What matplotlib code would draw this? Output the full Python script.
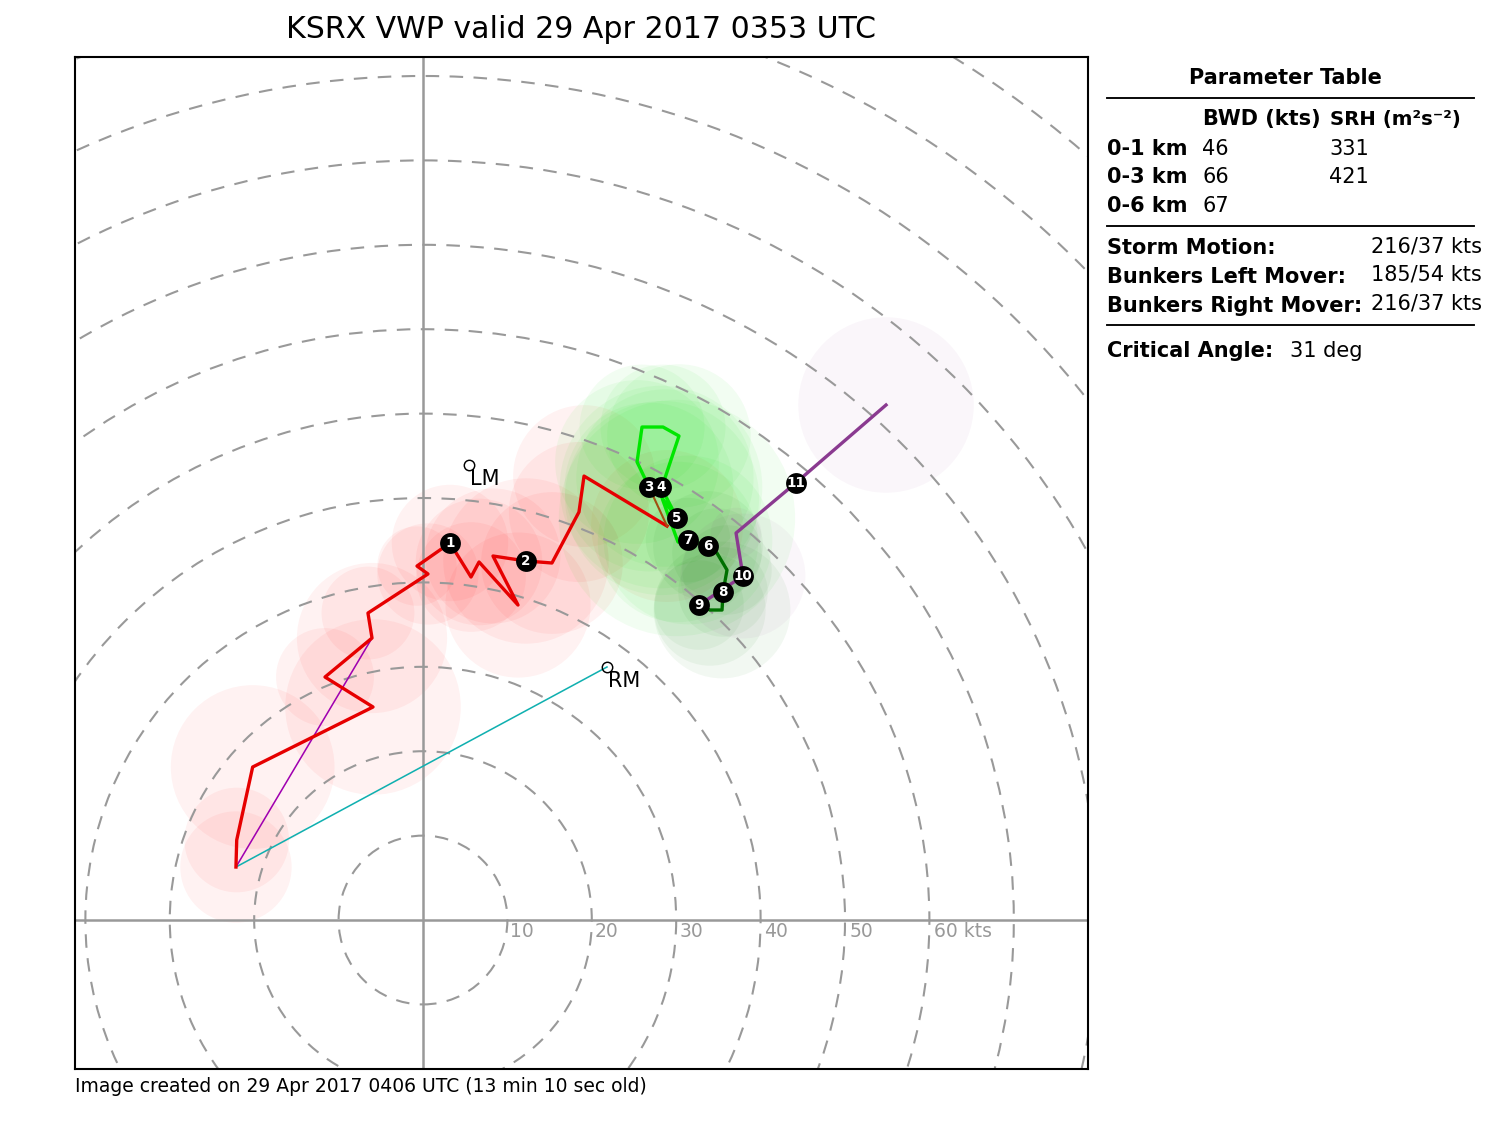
import matplotlib
matplotlib.use('Agg')
import matplotlib.pyplot as plt
from matplotlib.patches import Circle
from matplotlib.lines import Line2D

# hodograph segments, knots
red_u = [-22.16, -22.07, -20.18, -5.92, -11.61, -6.04, -6.52, 0.59, -0.71, 3.2, 5.69, 6.64, 11.26, 8.29, 12.2, 15.28, 18.48, 19.08, 28.91]
red_v = [6.28, 9.48, 18.13, 25.24, 28.79, 33.41, 36.37, 41.0, 41.94, 44.67, 40.64, 42.42, 37.32, 43.13, 42.54, 42.3, 48.34, 52.6, 46.68]
red_r = [6.6, 6.2, 9.7, 10.4, 5.8, 8.9, 5.5, 6.0, 4.7, 6.9, 6.5, 7.5, 8.6, 8.0, 9.8, 8.4, 8.3, 8.4, 9.0]

lime_u = [26.78, 25.36, 25.95, 28.44, 30.33, 28.67, 28.2, 30.09, 28.32, 30.21, 31.4]
lime_v = [51.3, 54.27, 58.41, 58.41, 57.35, 52.37, 51.3, 47.63, 50.0, 44.79, 45.02]
lime_r = [10.0, 9.7, 7.4, 7.4, 8.5, 10.5, 12.0, 14.0, 11.5, 9.5, 10.0]

dgreen_u = [31.4, 33.77, 34.83, 36.02, 35.55, 35.43, 34.0, 32.7]
dgreen_v = [45.02, 44.31, 43.48, 41.47, 38.86, 36.73, 36.73, 37.32]
dgreen_r = [5.0, 6.5, 5.3, 5.3, 5.3, 8.1, 6.6, 5.3]

purple_u = [32.7, 37.91, 37.09, 44.16, 54.86]
purple_v = [37.32, 40.76, 45.85, 51.78, 61.02]
purple_r = [0, 7.4, 3.0, 0, 10.4]

# height markers
km_labels = ['1', '2', '3', '4', '5', '6', '7', '8', '9', '10', '11']
km_u = [3.2, 12.2, 26.78, 28.2, 30.09, 33.77, 31.4, 35.55, 32.7, 37.91, 44.16]
km_v = [44.67, 42.54, 51.3, 51.3, 47.63, 44.31, 45.02, 38.86, 37.32, 40.76, 51.78]

lm = (5.45, 53.9)
rm = (21.8, 29.98)
rings = [10, 20, 30, 40, 50, 60, 70, 80, 90, 100, 110, 120, 130]
ring_labels = ['10', '20', '30', '40', '50', '60 kts']

W, H = 1500, 1125


def fx(px):
    return px / W


def fy(py):
    return 1 - py / H


fig = plt.figure(figsize=(10, 7.5), dpi=150)
ax = fig.add_axes([fx(75), fy(1069), (1088 - 75) / W, (1069 - 57) / H])
ax.set_xlim(-41.23, 78.79)
ax.set_ylim(-17.65, 102.25)
ax.set_xticks([])
ax.set_yticks([])
for s in ax.spines.values():
    s.set_linewidth(1.0)

ax.axhline(0, color='#999999', lw=1.2, zorder=2)
ax.axvline(0, color='#999999', lw=1.2, zorder=2)
for r in rings:
    ax.add_patch(Circle((0, 0), r, fill=False, ec='#999999', lw=1, ls=(0, (6.5, 5)), zorder=2))
for r, lab in zip(rings, ring_labels):
    ax.text(r * 1.005 + 0.25, -1.4, lab, color='#999999', fontsize=9, ha='left', va='center', zorder=3)

# uncertainty circles
for us, vs, rs, c, a in [(red_u, red_v, red_r, 'r', 0.05),
                         (lime_u, lime_v, lime_r, '#00e000', 0.05),
                         (dgreen_u, dgreen_v, dgreen_r, 'green', 0.05),
                         (purple_u, purple_v, purple_r, 'purple', 0.035)]:
    for u, v, r in zip(us, vs, rs):
        if r > 0:
            ax.add_patch(Circle((u, v), r, fc=c, ec='none', alpha=a, zorder=1))

# storm motion lines
ax.plot([red_u[0], rm[0]], [red_v[0], rm[1]], color='#10b0b0', lw=0.75, zorder=3)
ax.plot([red_u[0], red_u[5]], [red_v[0], red_v[5]], color='#a000b0', lw=0.75, zorder=3)

ax.plot(lime_u, lime_v, color='#00e600', lw=1.6, zorder=4)
ax.plot(red_u, red_v, color='#e60000', lw=1.6, zorder=4)
ax.plot([red_u[-1], lime_u[0]], [red_v[-1], lime_v[0]], color='#a05010', lw=1.0, zorder=4)
ax.plot(dgreen_u, dgreen_v, color='#007000', lw=1.6, zorder=4)
ax.plot(purple_u, purple_v, color='#8a3a90', lw=1.6, zorder=4)

for u, v, lab in zip(km_u, km_v, km_labels):
    ax.plot(u, v, 'o', color='k', ms=10, mew=0, zorder=5)
    ax.text(u, v, lab, color='w', fontsize=6.5, fontweight='bold', ha='center', va='center', zorder=6)

for pt, lab in [(lm, 'LM'), (rm, 'RM')]:
    ax.plot(pt[0], pt[1], 'o', mfc='none', mec='k', ms=5, mew=0.7, zorder=5)
    ax.text(pt[0] + 0.1, pt[1] - 0.5, lab, fontsize=10, ha='left', va='top', zorder=5)

fig.text(fx(581), fy(30), 'KSRX VWP valid 29 Apr 2017 0353 UTC', fontsize=14.4, ha='center', va='center')
fig.text(fx(75), fy(1087), 'Image created on 29 Apr 2017 0406 UTC (13 min 10 sec old)', fontsize=9, ha='left', va='center')


def tt(px, py, s, bold=False, size=10, **kw):
    fig.text(fx(px), fy(py), s, fontsize=size, fontweight='bold' if bold else 'normal', ha=kw.pop('ha', 'left'), va='center', **kw)


tt(1285, 78, 'Parameter Table', True, ha='center')
tt(1203, 119, 'BWD (kts)', True)
tt(1330, 119, 'SRH (m²s⁻²)', True, size=9.5)
for py, lab, bwd, srh in [(149, '0-1 km', '46', '331'), (177, '0-3 km', '66', '421'), (206, '0-6 km', '67', '')]:
    tt(1107, py, lab, True)
    tt(1202, py, bwd)
    tt(1329, py, srh)
tt(1107, 248, 'Storm Motion:', True)
tt(1371, 246, '216/37 kts')
tt(1107, 277, 'Bunkers Left Mover:', True)
tt(1371, 275, '185/54 kts')
tt(1107, 306, 'Bunkers Right Mover:', True)
tt(1371, 304, '216/37 kts')
tt(1107, 351, 'Critical Angle:', True)
tt(1290, 351, '31 deg')
for py in [98, 226, 325]:
    fig.add_artist(Line2D([fx(1107), fx(1474)], [fy(py), fy(py)], color='k', lw=0.9))

fig.savefig('out.png', dpi=150)
